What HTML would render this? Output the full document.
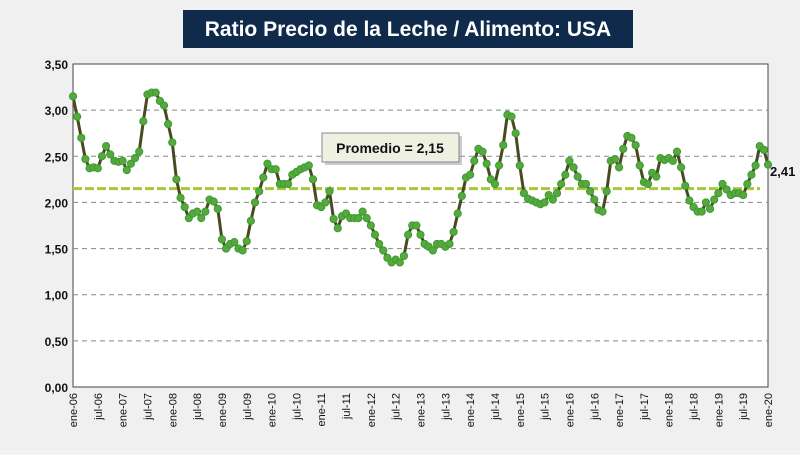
<!DOCTYPE html>
<html><head><meta charset="utf-8"><style>
body{margin:0;width:800px;height:450px;overflow:hidden;background:#f2f2f2;font-family:"Liberation Sans",sans-serif}
</style></head><body>
<svg width="800" height="450" xmlns="http://www.w3.org/2000/svg" id="chart">
<rect x="0" y="0" width="800" height="450" fill="#f0f0f0"/>
<rect x="73" y="64" width="695" height="323" fill="#fff" stroke="#444" stroke-width="1"/>
<g id="grid"></g><g id="yt"></g><g id="xt"></g><g id="avg"></g><g id="series"></g>
<rect x="183" y="10" width="450" height="38" fill="#0f2a4a"/>
<text x="408" y="36" text-anchor="middle" font-size="21" font-weight="bold" fill="#fff">Ratio Precio de la Leche / Alimento: USA</text>
<rect x="325" y="136" width="137" height="29" fill="#999" opacity="0.5"/>
<rect x="322" y="133" width="137" height="29" fill="#eef0e2" stroke="#888"/>
<text x="390" y="153" text-anchor="middle" font-size="14" font-weight="bold" fill="#111">Promedio = 2,15</text>
<text x="770" y="176" font-size="13" font-weight="bold" fill="#111">2,41</text>
</svg>
<script>
const values=[
3.15,2.93,2.70,2.47,2.37,2.38,2.37,2.50,2.61,2.52,2.45,2.44,
2.45,2.35,2.42,2.48,2.55,2.88,3.17,3.19,3.19,3.10,3.05,2.85,
2.65,2.25,2.05,1.95,1.83,1.88,1.90,1.83,1.90,2.03,2.01,1.93,
1.60,1.50,1.55,1.57,1.50,1.48,1.58,1.80,2.00,2.12,2.27,2.42,
2.36,2.36,2.20,2.20,2.20,2.30,2.33,2.36,2.38,2.40,2.25,1.97,
1.95,2.00,2.12,1.82,1.72,1.85,1.88,1.83,1.83,1.83,1.90,1.83,
1.75,1.65,1.55,1.48,1.40,1.35,1.38,1.35,1.42,1.65,1.75,1.75,
1.65,1.55,1.52,1.48,1.55,1.55,1.52,1.55,1.68,1.88,2.07,2.27,
2.30,2.45,2.58,2.55,2.42,2.25,2.20,2.40,2.62,2.95,2.93,2.75,
2.40,2.10,2.04,2.02,2.00,1.98,2.00,2.08,2.03,2.10,2.20,2.30,
2.45,2.38,2.28,2.20,2.20,2.12,2.03,1.92,1.90,2.12,2.45,2.47,
2.38,2.58,2.72,2.70,2.62,2.40,2.22,2.20,2.32,2.28,2.48,2.46,
2.48,2.45,2.55,2.38,2.18,2.02,1.95,1.90,1.90,2.00,1.93,2.03,
2.10,2.20,2.14,2.08,2.10,2.10,2.08,2.20,2.30,2.40,2.61,2.57,
2.41];
const average=2.15;
const yTicks=[0,0.5,1,1.5,2,2.5,3,3.5];
const years=["06","07","08","09","10","11","12","13","14","15","16","17","18","19","20"];
const NS="http://www.w3.org/2000/svg";
const X0=73,X1=768,Y0=387,Y1=64;
const x=i=>X0+(X1-X0)*i/(values.length-1);
const y=v=>Y0-(Y0-Y1)*v/3.5;
function mk(t,a,p){const e=document.createElementNS(NS,t);for(const k in a)e.setAttribute(k,a[k]);p.appendChild(e);return e;}
const g=id=>document.getElementById(id);
yTicks.forEach(v=>{
 if(v>0&&v<3.5){const l=mk('line',{x1:X0,x2:X1,y1:y(v),y2:y(v),stroke:'#888','stroke-dasharray':'5,4','stroke-width':1},g('grid'));
 
 }
 const t=mk('text',{x:X0-5,y:y(v)+5,'text-anchor':'end','font-size':12,'font-weight':'bold',fill:'#111'},g('yt'));
 t.textContent=v.toFixed(2).replace('.',',');
 
 
});
const labels=[];years.forEach((yr,k)=>{labels.push('ene-'+yr);if(k<years.length-1)labels.push('jul-'+yr);});
labels.forEach((lab,k)=>{
 const px=x(k*6);
 const t=mk('text',{x:0,y:0,transform:`translate(${px+4},${Y0+6}) rotate(-90)`,'text-anchor':'end','font-size':11,fill:'#111'},g('xt'));
 t.textContent=lab;
 
 
});
const al=mk('line',{x1:X0,x2:760,y1:y(average),y2:y(average),stroke:'#a8c83a','stroke-width':3,'stroke-dasharray':'9,3'},g('avg'));


const pl=mk('polyline',{points:values.map((v,i)=>x(i)+','+y(v)).join(' '),fill:'none',stroke:'#4a4a22','stroke-width':3},g('series'));


values.forEach((v,i)=>{
 const c=mk('circle',{cx:x(i),cy:y(v),r:3.6,fill:'#55aa3a',stroke:'#3e9a36','stroke-width':1},g('series'));
 
 
});
</script>
</body></html>
